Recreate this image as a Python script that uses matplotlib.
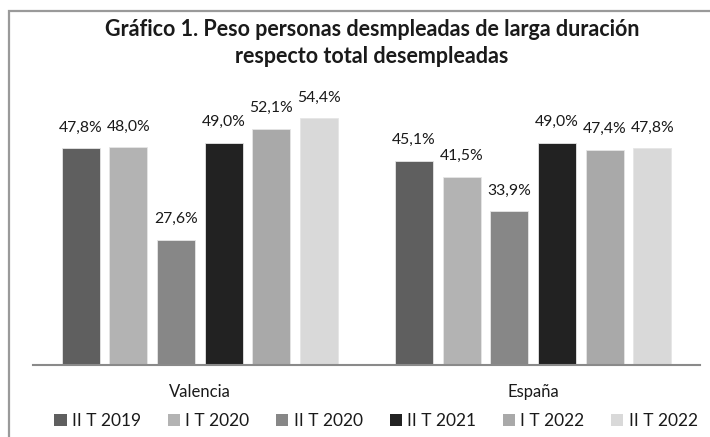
import matplotlib.pyplot as plt
import numpy as np
from matplotlib.patches import Rectangle, Patch

categories = ["Valencia", "España"]
series = ["II T 2019", "I T 2020", "II T 2020", "II T 2021", "I T 2022", "II T 2022"]
valencia = [47.8, 48.0, 27.6, 49.0, 52.1, 54.4]
espana = [45.1, 41.5, 33.9, 49.0, 47.4, 47.8]
colors = ["#5f5f5f", "#b3b3b3", "#878787", "#222222", "#a9a9a9", "#d9d9d9"]

plt.rcParams['font.family'] = ['Lato', 'DejaVu Sans']
W, H = 710, 437
fig = plt.figure(figsize=(7.1, 4.37), dpi=100)
fig.patch.set_facecolor('white')

# outer border (only top/left visible in reference)
fig.patches.append(Rectangle((9 / W, -0.1), 1.2, 1 - 11 / H + 0.1, transform=fig.transFigure,
                             fill=False, edgecolor='#9a9a9a', lw=1.6))

ax = fig.add_axes([33 / W, (H - 365) / H, (700 - 33) / W, (365 - 93) / H])
ax.set_xlim(-0.5, 1.5)
ax.set_ylim(0, 60)

step = 0.1429
width = 0.114
x = np.arange(len(categories))
for j, name in enumerate(series):
    vals = [valencia[j], espana[j]]
    pos = x + (j - 2.5) * step
    bars = ax.bar(pos, vals, width=width, color=colors[j], edgecolor='#e6e6e6', linewidth=0.6, label=name)
    for b, v in zip(bars, vals):
        ax.annotate(f"{v:.1f}%".replace('.', ','), (b.get_x() + b.get_width() / 2, v),
                    xytext=(0, 10), textcoords='offset points', ha='center', va='bottom',
                    fontsize=11.3, color='#1a1a1a')

for s in ['top', 'right', 'left']:
    ax.spines[s].set_visible(False)
ax.spines['bottom'].set_color('#8a8a8a')
ax.spines['bottom'].set_linewidth(1.5)
ax.set_yticks([])
ax.set_xticks(x)
ax.set_xticklabels(categories, fontsize=12, color='#1a1a1a')
ax.tick_params(axis='x', length=0, pad=14)

fig.text(372 / W, 1 - 43 / H, "Gráfico 1. Peso personas desmpleadas de larga duración\nrespecto total desempleadas",
         ha='center', va='center', fontsize=15.5, fontweight='bold', color='#1a1a1a', linespacing=1.3)

handles = [Patch(facecolor=c, edgecolor='none') for c in colors]
fig.legend(handles, series, loc='center', bbox_to_anchor=(376 / W, 1 - 421 / H), ncol=6, frameon=False,
           fontsize=12.5, handlelength=0.7, handleheight=0.7, handletextpad=0.3, columnspacing=1.55,
           labelcolor='#1a1a1a')

fig.savefig('out.png', dpi=100)
